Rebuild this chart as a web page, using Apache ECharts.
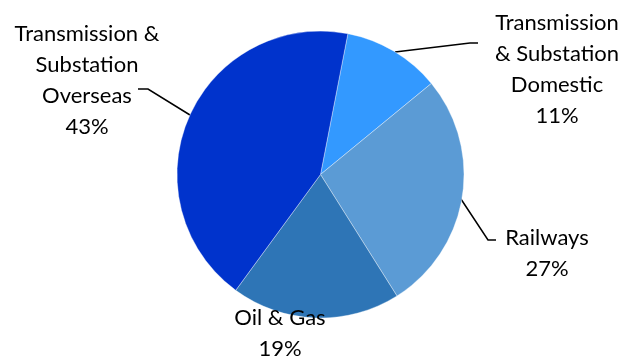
<!DOCTYPE html>
<html><head><meta charset="utf-8">
<script src="https://cdn.jsdelivr.net/npm/echarts@6/dist/echarts.min.js"></script>
<style>html,body{margin:0;padding:0;background:#fff}#c{width:629px;height:356px}</style>
</head><body><div id="c"></div>
<script>
const categories = ["Transmission & Substation Domestic", "Railways", "Oil & Gas", "Transmission & Substation Overseas"];
const labelTexts = ["Transmission\n& Substation\nDomestic", "Railways", "Oil & Gas", "Transmission &\nSubstation\nOverseas"];
const values = [11, 27, 19, 43];
const colors = ["#3399FF", "#5B9BD5", "#2E75B6", "#0033CC"];

// label anchor positions (x, y middle) and leader lines
const labelPos = [
  {x: 557, y: 69, line: [[395, 52], [470, 43], [478, 43]]},
  {x: 547, y: 253, line: [[455, 190], [488, 240], [496, 240]]},
  {x: 280, y: 333, line: null},
  {x: 87, y: 80, line: [[190, 115], [148, 89], [138, 89]]}
];

const chart = echarts.init(document.getElementById('c'), null, {renderer: 'canvas'});
chart.setOption({
  animation: false,
  series: [{
    type: 'pie',
    center: [320.5, 174.5],
    radius: 143.5,
    startAngle: 79,
    clockwise: true,
    data: categories.map((n, i) => ({name: n, value: values[i], itemStyle: {color: colors[i]}, labelLine: {show: i !== 2}})),
    itemStyle: {borderColor: 'rgba(255,255,255,0.6)', borderWidth: 0.6},
    label: {
      show: true,
      formatter: p => labelTexts[p.dataIndex] + '\n' + p.value + '%',
      fontFamily: 'Lato',
      fontSize: 22,
      lineHeight: 31,
      color: '#000',
      align: 'center',
      overflow: 'none'
    },
    labelLine: {show: true, lineStyle: {color: '#000', width: 1.5}},
    labelLayout: function (params) {
      const lp = labelPos[params.dataIndex];
      const r = {x: lp.x, y: lp.y, align: 'center', verticalAlign: 'middle'};
      if (lp.line) r.labelLinePoints = lp.line;
      return r;
    },
    emphasis: {disabled: true}
  }]
});
</script>
</body></html>
